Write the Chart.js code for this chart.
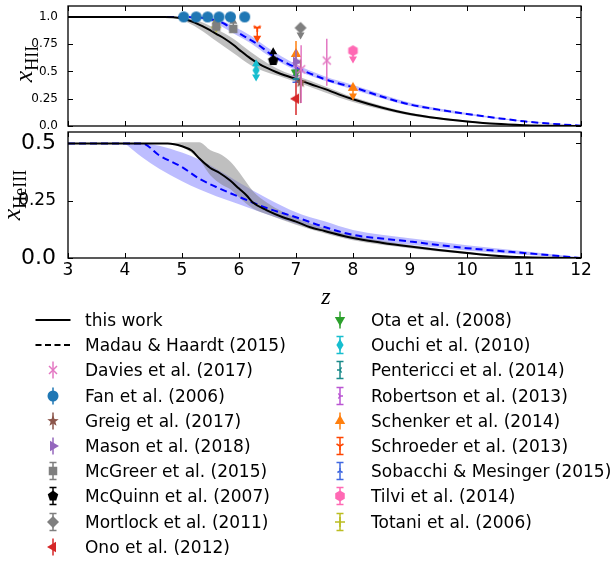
<!DOCTYPE html>
<html>
<head>
<meta charset="utf-8">
<title>Reionization history</title>
<script src="https://cdn.jsdelivr.net/npm/chart.js@4.4.1/dist/chart.umd.min.js"></script>
<style>
  body { margin: 0; background: #fff; }
  #wrap { position: relative; width: 616px; height: 563px; overflow: hidden; font-family: "DejaVu Sans", sans-serif; color: #000; }
  #wrap canvas.plot { position: absolute; left: 0; }
  .ttl { position: absolute; font-family: "Liberation Serif", serif; font-size: 26px; white-space: nowrap; line-height: 1; transform: translate(-50%, -50%) rotate(-90deg); }
  .ttl i { font-style: italic; }
  .ttl sub { font-size: 18px; }
  .zl { position: absolute; font-family: "Liberation Serif", serif; font-style: italic; font-size: 24px; line-height: 1; transform: translate(-50%, -50%); }
  .item { position: absolute; height: 26px; white-space: nowrap; }
  .item canvas { position: absolute; left: 0; top: 0; }
  .item span { position: absolute; top: 2px; font-size: 17px; line-height: 22px; }
</style>
</head>
<body>
<div id="wrap">
  <canvas id="topChart" class="plot" width="616" height="132" style="top:0"></canvas>
  <canvas id="botChart" class="plot" width="616" height="160" style="top:131px"></canvas>
  <div class="ttl" style="left:26px;top:64px"><i>x</i><sub>HII</sub></div>
  <div class="ttl" style="left:14px;top:195px"><i>x</i><sub>HeIII</sub></div>
  <div class="zl" style="left:326px;top:296px">z</div>
  <div id="legend"></div>
</div>
<script>
// axes
const zTicks = [3, 4, 5, 6, 7, 8, 9, 10, 11, 12];
const yTopTicks = [0, 0.25, 0.5, 0.75, 1.0];
const yTopLabels = ['0.0', '0.25', '0.5', '0.75', '1.0'];
const yBotTicks = [0, 0.25, 0.5];
const yBotLabels = ['0.0', '0.25', '0.5'];

// x_HII : this work and Madau & Haardt (2015)
const zTop = [3, 4.7, 4.85, 5.0, 5.15, 5.3, 5.45, 5.6, 5.75, 5.9, 6.05, 6.2, 6.35, 6.5, 6.65, 6.8, 7.0, 7.25, 7.5, 7.75, 8.0, 8.5, 9.0, 9.5, 10.0, 10.5, 11.0, 11.5, 12];
const thisTop = [1, 1, 0.997, 0.985, 0.962, 0.93, 0.89, 0.845, 0.80, 0.745, 0.68, 0.62, 0.57, 0.53, 0.495, 0.465, 0.432, 0.385, 0.34, 0.29, 0.245, 0.17, 0.11, 0.07, 0.042, 0.02, 0.008, 0.002, 0];
const mhTop = [1, 1, 1, 1, 0.998, 0.995, 0.985, 0.965, 0.935, 0.88, 0.835, 0.79, 0.74, 0.68, 0.625, 0.585, 0.535, 0.48, 0.43, 0.39, 0.356, 0.27, 0.197, 0.15, 0.11, 0.075, 0.043, 0.02, 0.003];

const zGrayTop = [4.7, 5.0, 5.3, 5.6, 5.9, 6.2, 6.5, 6.8, 7.0, 7.5, 8.0, 9.0, 10.0, 11.0, 12.0];
const grayTopLo = [1, 0.972, 0.89, 0.78, 0.67, 0.56, 0.49, 0.44, 0.405, 0.31, 0.22, 0.097, 0.035, 0.005, 0];
const grayTopHi = [1, 0.995, 0.96, 0.89, 0.80, 0.68, 0.575, 0.495, 0.46, 0.365, 0.265, 0.122, 0.05, 0.011, 0];

const zBlueTop = [5.0, 5.3, 5.6, 5.9, 6.2, 6.5, 7.0, 7.5, 8.0, 9.0, 10.0, 11.0, 12.0];
const blueTopLo = [1, 0.99, 0.94, 0.85, 0.76, 0.65, 0.51, 0.415, 0.335, 0.183, 0.1, 0.038, 0];
const blueTopHi = [1, 1, 0.985, 0.915, 0.83, 0.72, 0.565, 0.455, 0.375, 0.212, 0.12, 0.048, 0.006];

// x_HeIII
const zBot = [3, 4.75, 5.0, 5.17, 5.31, 5.49, 5.66, 5.84, 6.0, 6.13, 6.25, 6.48, 6.77, 7.0, 7.25, 7.5, 8.0, 8.5, 9.0, 9.5, 10.0, 10.5, 11.0, 11.5, 12];
const thisBot = [0.5, 0.5, 0.488, 0.469, 0.433, 0.394, 0.371, 0.339, 0.303, 0.274, 0.241, 0.209, 0.178, 0.159, 0.134, 0.118, 0.087, 0.067, 0.05, 0.035, 0.022, 0.01, 0.003, 0.001, 0];
const zMhBot = [3, 4.3, 4.6, 5.0, 5.3, 5.6, 6.0, 6.5, 7.0, 7.5, 8.0, 8.5, 9.0, 9.5, 10, 10.5, 11, 11.5, 12];
const mhBot = [0.5, 0.5, 0.448, 0.397, 0.347, 0.31, 0.267, 0.217, 0.178, 0.135, 0.101, 0.085, 0.072, 0.057, 0.043, 0.032, 0.022, 0.011, 0];

const zGrayBot = [4.8, 5.0, 5.3, 5.5, 5.7, 5.85, 6.0, 6.25, 6.5, 7.0, 7.5, 8.0, 9.0, 10.0, 11.0, 12.0];
const grayBotLo = [0.5, 0.485, 0.43, 0.36, 0.32, 0.30, 0.265, 0.215, 0.19, 0.145, 0.108, 0.078, 0.043, 0.017, 0.002, 0];
const grayBotHi = [0.5, 0.505, 0.505, 0.47, 0.45, 0.42, 0.375, 0.29, 0.24, 0.175, 0.13, 0.097, 0.057, 0.027, 0.006, 0];

const zBlueBot = [4.0, 4.3, 4.6, 5.0, 5.3, 5.6, 6.0, 6.5, 7.0, 7.5, 8.0, 9.0, 10.0, 11.0, 12.0];
const blueBotLo = [0.5, 0.44, 0.39, 0.335, 0.30, 0.27, 0.235, 0.19, 0.15, 0.115, 0.082, 0.058, 0.033, 0.014, 0];
const blueBotHi = [0.5, 0.5, 0.49, 0.46, 0.43, 0.39, 0.33, 0.26, 0.2, 0.16, 0.122, 0.086, 0.056, 0.03, 0.003];

// observations: [z, x_HII, low, high, limit]  limit: 1 lower limit, -1 upper limit, 2 both
const davies = [[7.09, 0.52, 0.21, 0.74], [7.54, 0.60, 0.37, 0.80]];
const fan = [[5.03, 1, 1, 1], [5.25, 1, 1, 1], [5.45, 1, 1, 1], [5.65, 1, 1, 1], [5.85, 1, 1, 1], [6.10, 1, 1, 1]];
const greig = [[7.08, 0.40, 0.21, 0.61]];
const mason = [[7.0, 0.59, 0.44, 0.70]];
const mcgreer = [[5.6, 0.91, 0.91, 0.965, 1], [5.9, 0.89, 0.89, 0.965, 1]];
const mcquinn = [[6.6, 0.60, 0.60, 0.685, 1]];
const mortlock = [[7.08, 0.90, 0.83, 0.90, -1]];
const ono = [[7.0, 0.25, 0.10, 0.40]];
const ota = [[7.0, 0.49, 0.45, 0.53]];
const ouchi = [[6.3, 0.51, 0.445, 0.575, 2]];
const pentericci = [[7.0, 0.47, 0.43, 0.51]];
const robertson = [[7.0, 0.52, 0.46, 0.58]];
const schenker = [[7.0, 0.66, 0.54, 0.78], [8.0, 0.35, 0.27, 0.35, -1]];
const schroeder = [[6.32, 0.90, 0.80, 0.90, -1]];
const sobacchi = [[7.0, 0.44, 0.40, 0.50]];
const tilvi = [[8.0, 0.69, 0.61, 0.69, -1]];
const totani = [[5.6, 0.905, 0.905, 0.975, 1]];

const sources = [
  { label: 'Davies et al. (2017)', rows: davies, shape: 'x', color: '#e377c2', r: 5, cap: false },
  { label: 'Fan et al. (2006)', rows: fan, shape: 'o', color: '#1f77b4', r: 5.5, cap: false },
  { label: 'Greig et al. (2017)', rows: greig, shape: '*', color: '#8c564b', r: 6, cap: false },
  { label: 'Mason et al. (2018)', rows: mason, shape: '>', color: '#9467bd', r: 6, cap: false },
  { label: 'McGreer et al. (2015)', rows: mcgreer, shape: 's', color: '#7f7f7f', r: 5, cap: true },
  { label: 'McQuinn et al. (2007)', rows: mcquinn, shape: 'p', color: '#000000', r: 5.5, cap: true },
  { label: 'Mortlock et al. (2011)', rows: mortlock, shape: 'D', color: '#7f7f7f', r: 6, cap: true },
  { label: 'Ono et al. (2012)', rows: ono, shape: '<', color: '#d62728', r: 6, cap: false },
  { label: 'Ota et al. (2008)', rows: ota, shape: 'v', color: '#2ca02c', r: 6, cap: false },
  { label: 'Ouchi et al. (2010)', rows: ouchi, shape: 'd', color: '#17becf', r: 6, cap: true },
  { label: 'Pentericci et al. (2014)', rows: pentericci, shape: '3', color: '#1a8a8a', r: 3, cap: true },
  { label: 'Robertson et al. (2013)', rows: robertson, shape: '4', color: '#ba55d3', r: 3, cap: true },
  { label: 'Schenker et al. (2014)', rows: schenker, shape: '^', color: '#ff7f0e', r: 6, cap: false },
  { label: 'Schroeder et al. (2013)', rows: schroeder, shape: '1', color: '#ff4500', r: 4, cap: true },
  { label: 'Sobacchi & Mesinger (2015)', rows: sobacchi, shape: '2', color: '#4169e1', r: 3, cap: true },
  { label: 'Tilvi et al. (2014)', rows: tilvi, shape: 'h', color: '#ff69b4', r: 5.5, cap: true },
  { label: 'Totani et al. (2006)', rows: totani, shape: '+', color: '#bcbd22', r: 5, cap: true }
];

function pts(z, v) { return z.map((x, i) => ({ x: x, y: v[i] })); }
function obs(rows) { return rows.map(r => ({ x: r[0], y: r[1], lo: r[2], hi: r[3], lim: r[4] || 0 })); }

function drawShape(g, shape, x, y, r, color) {
  g.save();
  g.fillStyle = color; g.strokeStyle = color; g.lineWidth = 1.5;
  const poly = (n, rot) => {
    g.beginPath();
    for (let i = 0; i < n; i++) { const a = rot + i * 2 * Math.PI / n; g.lineTo(x + r * Math.cos(a), y + r * Math.sin(a)); }
    g.closePath(); g.fill();
  };
  const arms = list => {
    g.beginPath();
    list.forEach(p => { g.moveTo(x, y); g.lineTo(x + p[0] * r, y + p[1] * r); });
    g.stroke();
  };
  switch (shape) {
    case 'o': g.beginPath(); g.arc(x, y, r, 0, 2 * Math.PI); g.fill(); break;
    case 's': g.fillRect(x - r * 0.85, y - r * 0.85, r * 1.7, r * 1.7); break;
    case 'D': poly(4, -Math.PI / 2); break;
    case 'd':
      g.beginPath(); g.moveTo(x, y - r); g.lineTo(x + r * 0.6, y); g.lineTo(x, y + r); g.lineTo(x - r * 0.6, y);
      g.closePath(); g.fill(); break;
    case '^': poly(3, -Math.PI / 2); break;
    case 'v': poly(3, Math.PI / 2); break;
    case '>': poly(3, 0); break;
    case '<': poly(3, Math.PI); break;
    case 'p': poly(5, -Math.PI / 2); break;
    case 'h': poly(6, -Math.PI / 2); break;
    case '*':
      g.beginPath();
      for (let i = 0; i < 10; i++) {
        const a = -Math.PI / 2 + i * Math.PI / 5, k = i % 2 ? 0.42 : 1;
        g.lineTo(x + r * k * Math.cos(a), y + r * k * Math.sin(a));
      }
      g.closePath(); g.fill(); break;
    case 'x': arms([[0.8, 0.8], [-0.8, -0.8], [0.8, -0.8], [-0.8, 0.8]]); break;
    case '+': arms([[1, 0], [-1, 0], [0, 1], [0, -1]]); break;
    case '1': arms([[0, 1], [-0.87, -0.5], [0.87, -0.5]]); break;
    case '2': arms([[0, -1], [-0.87, 0.5], [0.87, 0.5]]); break;
    case '3': arms([[-1, 0], [0.5, -0.87], [0.5, 0.87]]); break;
    case '4': arms([[1, 0], [-0.5, -0.87], [-0.5, 0.87]]); break;
  }
  g.restore();
}

function marker(shape, color, r) {
  const c = document.createElement('canvas');
  const s = Math.ceil(2 * r + 4);
  c.width = s; c.height = s;
  drawShape(c.getContext('2d'), shape, s / 2, s / 2, r, color);
  return c;
}

function arrow(g, x, y, dir) {
  // dir -1 : pointing up, 1 : pointing down
  g.beginPath();
  g.moveTo(x, y + dir * 4);
  g.lineTo(x - 4, y - dir * 3);
  g.lineTo(x + 4, y - dir * 3);
  g.closePath(); g.fill();
}

const errPlugin = {
  id: 'errbars',
  beforeDatasetDraw(chart, args) {
    const ds = chart.data.datasets[args.index];
    if (!ds.src) return;
    const g = chart.ctx, xs = chart.scales.x, ys = chart.scales.y;
    g.save();
    g.strokeStyle = ds.src.color; g.fillStyle = ds.src.color; g.lineWidth = 1.5;
    ds.data.forEach(p => {
      if (p.hi === p.lo) return;
      const px = xs.getPixelForValue(p.x), pl = ys.getPixelForValue(p.lo), ph = ys.getPixelForValue(p.hi);
      g.beginPath(); g.moveTo(px, pl); g.lineTo(px, ph); g.stroke();
      const upA = p.lim === 1 || p.lim === 2, dnA = p.lim === -1 || p.lim === 2;
      if (ds.src.cap) {
        g.beginPath();
        if (!upA) { g.moveTo(px - 3.5, ph); g.lineTo(px + 3.5, ph); }
        if (!dnA) { g.moveTo(px - 3.5, pl); g.lineTo(px + 3.5, pl); }
        g.stroke();
      }
      if (upA) arrow(g, px, ph, -1);
      if (dnA) arrow(g, px, pl, 1);
    });
    g.restore();
  }
};

const framePlugin = {
  id: 'frame',
  afterDraw(chart, args, opts) {
    const g = chart.ctx, a = chart.chartArea, xs = chart.scales.x, ys = chart.scales.y;
    g.save();
    g.strokeStyle = '#000';
    g.lineWidth = 1;
    g.beginPath();
    zTicks.forEach(v => {
      const p = Math.round(xs.getPixelForValue(v)) + 0.5;
      g.moveTo(p, a.top); g.lineTo(p, a.top + 5);
      g.moveTo(p, a.bottom); g.lineTo(p, a.bottom - 5);
    });
    opts.yTicks.forEach(v => {
      const p = Math.round(ys.getPixelForValue(v)) + 0.5;
      g.moveTo(a.left, p); g.lineTo(a.left + 5, p);
      g.moveTo(a.right, p); g.lineTo(a.right - 5, p);
    });
    g.stroke();
    g.lineWidth = 1.3;
    g.strokeRect(a.left, a.top, a.right - a.left, a.bottom - a.top);
    g.restore();
  }
};

function lineSet(data, color, dash) {
  return { data: data, showLine: true, borderColor: color, borderWidth: 2, borderDash: dash, pointRadius: 0,
    fill: false, cubicInterpolationMode: 'monotone', order: 1 };
}
function bandSets(z, lo, hi, color) {
  return [
    { data: pts(z, lo), showLine: true, borderColor: 'transparent', borderWidth: 0, pointRadius: 0, fill: false,
      cubicInterpolationMode: 'monotone', order: 2 },
    { data: pts(z, hi), showLine: true, borderColor: 'transparent', borderWidth: 0, pointRadius: 0, fill: '-1',
      backgroundColor: color, cubicInterpolationMode: 'monotone', order: 2 }
  ];
}

function xAxis(show) {
  return {
    type: 'linear', min: 3, max: 12, display: show,
    afterBuildTicks: s => { s.ticks = zTicks.map(v => ({ value: v })); },
    grid: { display: false }, border: { display: false },
    ticks: { color: '#000', font: { family: 'DejaVu Sans', size: 17 }, padding: -6, maxRotation: 0, autoSkip: false },
    afterFit: s => { s.height = show ? 33 : 0; s.paddingLeft = 0; s.paddingRight = 0; }
  };
}
function yAxis(max, ticks, labels, sizeFn, pad) {
  return {
    type: 'linear', min: 0, max: max,
    afterBuildTicks: s => { s.ticks = ticks.map(v => ({ value: v })); },
    grid: { display: false }, border: { display: false },
    ticks: { color: '#000', padding: pad, autoSkip: false,
      font: c => ({ family: 'DejaVu Sans', size: sizeFn(c.index) }),
      callback: (v, i) => labels[i] },
    afterFit: s => { s.width = 68; s.paddingTop = 0; s.paddingBottom = 0; }
  };
}

const gray = 'rgba(128,128,128,0.5)';
const blue = 'rgba(0,0,255,0.26)';

const obsSets = sources.map(s => ({
  label: s.label, data: obs(s.rows), showLine: false, src: s,
  pointStyle: marker(s.shape, s.color, s.r), pointRadius: 5, order: 0
}));

new Chart(document.getElementById('topChart'), {
  type: 'scatter',
  data: {
    datasets: obsSets.concat([
      lineSet(pts(zTop, thisTop), '#000000', []),
      lineSet(pts(zTop, mhTop), '#0000ff', [7, 4])
    ], bandSets(zGrayTop, grayTopLo, grayTopHi, gray), bandSets(zBlueTop, blueTopLo, blueTopHi, blue))
  },
  options: {
    responsive: false, animation: false, events: [],
    layout: { padding: { left: 0, right: 35, top: 4, bottom: 1 } },
    scales: {
      x: xAxis(false),
      y: yAxis(1.1, yTopTicks, yTopLabels, () => 12, 2)
    },
    plugins: { legend: { display: false }, tooltip: { enabled: false }, frame: { yTicks: yTopTicks } }
  },
  plugins: [errPlugin, framePlugin]
});

new Chart(document.getElementById('botChart'), {
  type: 'scatter',
  data: {
    datasets: [
      lineSet(pts(zBot, thisBot), '#000000', []),
      lineSet(pts(zMhBot, mhBot), '#0000ff', [7, 4])
    ].concat(bandSets(zGrayBot, grayBotLo, grayBotHi, gray), bandSets(zBlueBot, blueBotLo, blueBotHi, blue))
  },
  options: {
    responsive: false, animation: false, events: [],
    layout: { padding: { left: 0, right: 35, top: 1, bottom: 0 } },
    scales: {
      x: xAxis(true),
      y: yAxis(0.55, yBotTicks, yBotLabels, i => (i === 1 ? 17 : 22), 4)
    },
    plugins: { legend: { display: false }, tooltip: { enabled: false }, frame: { yTicks: yBotTicks } }
  },
  plugins: [framePlugin]
});

// legend (two columns, matplotlib style)
const leg = document.getElementById('legend');
const legendItems = [{ label: 'this work', kind: 'solid' }, { label: 'Madau & Haardt (2015)', kind: 'dash' }]
  .concat(sources.map(s => ({ label: s.label, kind: 'err', src: s })));
legendItems.forEach((it, i) => {
  const col = i < 10 ? 0 : 1, row = i < 10 ? i : i - 10;
  const mx = col ? 340 : 52.7, tx = col ? 371 : 85, cy = 320 + row * 25.2;
  const d = document.createElement('div');
  d.className = 'item';
  d.style.left = (mx - 22) + 'px'; d.style.top = (cy - 13) + 'px';
  const c = document.createElement('canvas');
  c.width = 44; c.height = 26;
  const g = c.getContext('2d');
  if (it.kind === 'err') {
    const s = it.src;
    g.strokeStyle = s.color; g.lineWidth = 1.5;
    g.beginPath(); g.moveTo(22, 4.5); g.lineTo(22, 21.5);
    if (s.cap) { g.moveTo(18.5, 4.5); g.lineTo(25.5, 4.5); g.moveTo(18.5, 21.5); g.lineTo(25.5, 21.5); }
    g.stroke();
    drawShape(g, s.shape, 22, 13, s.r, s.color);
  } else {
    g.strokeStyle = '#000'; g.lineWidth = 2;
    if (it.kind === 'dash') g.setLineDash([6, 3.5]);
    g.beginPath(); g.moveTo(4.5, 13); g.lineTo(39.5, 13); g.stroke();
  }
  d.appendChild(c);
  const t = document.createElement('span');
  t.textContent = it.label;
  t.style.left = (tx - mx + 22) + 'px';
  d.appendChild(t);
  leg.appendChild(d);
});
</script>
</body>
</html>
